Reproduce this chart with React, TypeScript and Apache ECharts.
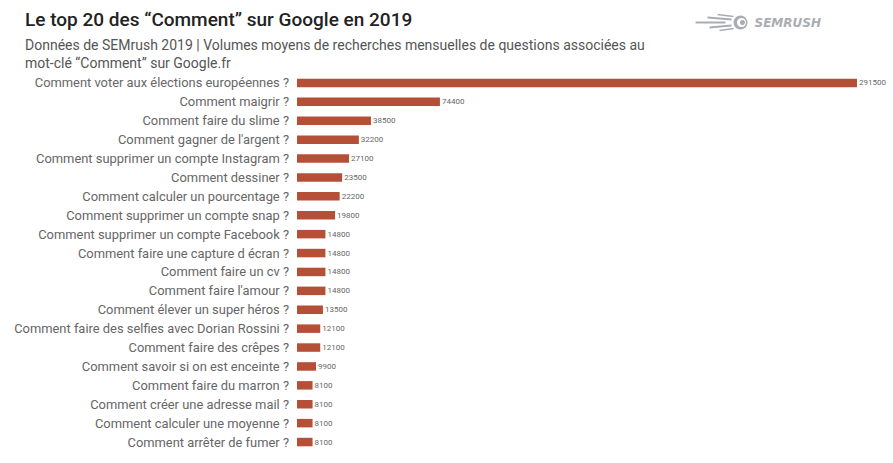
import React, { useEffect, useRef } from "react";
import * as echarts from "echarts";

const categories = [
  "Comment voter aux élections européennes ?",
  "Comment maigrir ?",
  "Comment faire du slime ?",
  "Comment gagner de l'argent ?",
  "Comment supprimer un compte Instagram ?",
  "Comment dessiner ?",
  "Comment calculer un pourcentage ?",
  "Comment supprimer un compte snap ?",
  "Comment supprimer un compte Facebook ?",
  "Comment faire une capture d écran ?",
  "Comment faire un cv ?",
  "Comment faire l'amour ?",
  "Comment élever un super héros ?",
  "Comment faire des selfies avec Dorian Rossini ?",
  "Comment faire des crêpes ?",
  "Comment savoir si on est enceinte ?",
  "Comment faire du marron ?",
  "Comment créer une adresse mail ?",
  "Comment calculer une moyenne ?",
  "Comment arrêter de fumer ?",
];

const volumes = [
  291500, 74400, 38500, 32200, 27100, 23500, 22200, 19800, 14800, 14800,
  14800, 14800, 13500, 12100, 12100, 9900, 8100, 8100, 8100, 8100,
];

const titleText = "Le top 20 des “Comment” sur Google en 2019";
const subtitleText =
  "Données de SEMrush 2019 | Volumes moyens de recherches mensuelles de questions associées au\nmot-clé “Comment” sur Google.fr";

export default function App() {
  const ref = useRef<HTMLDivElement>(null);
  useEffect(() => {
    if (!ref.current) return;
    const chart = echarts.init(ref.current, null, { renderer: "svg" });
    const logoGray = "#a9adb2";
    chart.setOption({
      animation: false,
      backgroundColor: "#ffffff",
      title: [
        {
          text: titleText,
          left: 20,
          top: 5,
          padding: 5,
          textStyle: {
            fontFamily: "Roboto",
            fontSize: 19,
            fontWeight: 500,
            color: "#222222",
          },
        },
        {
          text: subtitleText,
          left: 20,
          top: 31,
          padding: 5,
          textStyle: {
            fontFamily: "Roboto",
            fontSize: 14,
            fontWeight: 400,
            color: "#555555",
            lineHeight: 18,
          },
        },
      ],
      graphic: [
        {
          type: "group",
          left: 693,
          top: 12,
          children: [
            { type: "line", shape: { x1: 0, y1: 8, x2: 30, y2: 8 }, style: { stroke: logoGray, lineWidth: 2 } },
            { type: "line", shape: { x1: 12, y1: 3, x2: 36, y2: 5 }, style: { stroke: logoGray, lineWidth: 2 } },
            { type: "line", shape: { x1: 14, y1: 13, x2: 36, y2: 11 }, style: { stroke: logoGray, lineWidth: 2 } },
            { type: "line", shape: { x1: 22, y1: 0, x2: 38, y2: 2 }, style: { stroke: logoGray, lineWidth: 1.5 } },
            { type: "line", shape: { x1: 24, y1: 16, x2: 38, y2: 14 }, style: { stroke: logoGray, lineWidth: 1.5 } },
            { type: "circle", shape: { cx: 45, cy: 8, r: 7 }, style: { fill: logoGray } },
            { type: "circle", shape: { cx: 46, cy: 8, r: 4.5 }, style: { fill: "#ffffff" } },
            { type: "circle", shape: { cx: 47, cy: 8, r: 2.5 }, style: { fill: logoGray } },
            {
              type: "text",
              x: 59,
              y: 2,
              style: {
                text: "SEMRUSH",
                fill: logoGray,
                fontFamily: "DejaVu Sans",
                fontSize: 12,
                fontWeight: "bold",
                fontStyle: "italic",
              },
            },
          ],
        },
      ],
      grid: {
        left: 297,
        right: 36,
        top: 73.5,
        bottom: 11.5,
        containLabel: false,
      },
      xAxis: {
        type: "value",
        min: 0,
        max: 291500,
        show: false,
      },
      yAxis: {
        type: "category",
        data: categories,
        inverse: true,
        axisLine: { show: false },
        axisTick: { show: false },
        splitLine: { show: false },
        axisLabel: {
          fontFamily: "Roboto",
          fontSize: 12.9,
          color: "#666666",
          margin: 8,
        },
      },
      series: [
        {
          type: "bar",
          data: volumes,
          barCategoryGap: "55%",
          itemStyle: { color: "#b64f37" },
          label: {
            show: true,
            position: "right",
            distance: 2,
            fontFamily: "Roboto",
            fontSize: 8,
            color: "#666666",
          },
        },
      ],
    });
    return () => chart.dispose();
  }, []);
  return (
    <div
      ref={ref}
      style={{ position: "fixed", left: 0, top: 0, width: 893, height: 463 }}
    />
  );
}
